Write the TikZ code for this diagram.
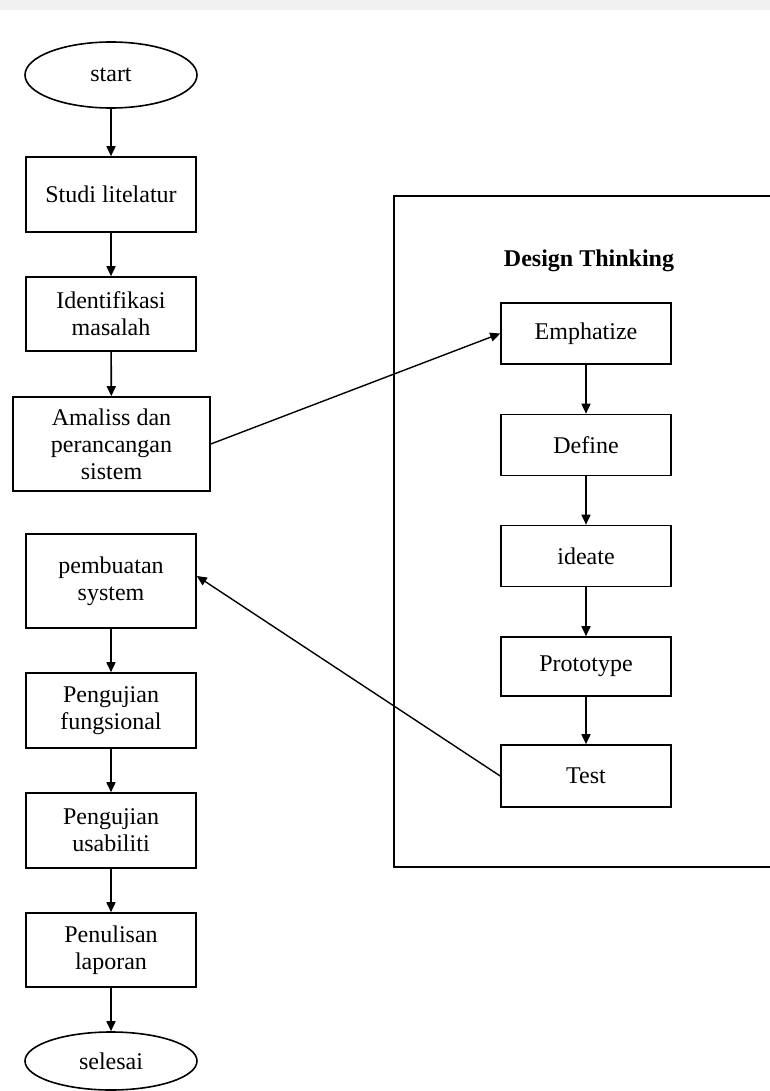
\documentclass[tikz,border=0pt]{standalone}
\usepackage{fontspec}
\setmainfont{Liberation Serif}
\usetikzlibrary{shapes.geometric,arrows.meta}
\begin{document}
\begin{tikzpicture}[x=1pt,y=-1pt,
  font=\fontsize{24}{27}\selectfont,
  proc/.style={draw,line width=1.6pt,inner sep=0pt,align=center,minimum width=170pt},
  term/.style={draw,ellipse,line width=1.6pt,inner sep=0pt,minimum width=172pt},
  flow/.style={line width=1.6pt,-{Triangle[length=10pt,width=9pt]}},
  link/.style={line width=1.4pt,-{Triangle[length=10pt,width=9pt]}}]
\useasboundingbox (0,0) rectangle (770,1091);
% faint strip along the top edge
\fill[gray!12] (0,0) rectangle (770,10);

% left column
\node[term,minimum height=66pt] (start) at (111,75) {start};
\node[proc,minimum height=75pt] (studi) at (111,194.5) {Studi litelatur};
\node[proc,minimum height=74pt] (ident) at (111,314) {Identifikasi\\masalah};
\node[proc,minimum width=197pt,minimum height=94pt] (amal) at (111.5,444) {Amaliss dan\\perancangan\\sistem};
\node[proc,minimum height=94pt] (pemb) at (111,581) {pembuatan\\system};
\node[proc,minimum height=75pt] (fung) at (111,710.5) {Pengujian\\fungsional};
\node[proc,minimum height=75pt] (usab) at (111,830.5) {Pengujian\\usabiliti};
\node[proc,minimum height=74pt] (penul) at (111,950) {Penulisan\\laporan};
\node[term,minimum height=58pt] (sel) at (111,1061) {selesai};

% design thinking frame
\draw[line width=1.6pt] (772,196) -- (394,196) -- (394,867) -- (772,867);
\node[font=\fontsize{24}{27}\selectfont\bfseries] (dt) at (589,261) {Design Thinking};
\node[proc,minimum height=61pt] (emph) at (586,333.5) {Emphatize};
\node[proc,minimum height=61pt] (def) at (586,445) {Define};
\node[proc,minimum height=61pt] (idea) at (586,556) {ideate};
\node[proc,minimum height=59pt] (proto) at (586,666.5) {Prototype};
\node[proc,minimum height=62pt] (test) at (586,776) {Test};

% connectors
\draw[flow] (start) -- (studi);
\draw[flow] (studi) -- (ident);
\draw[flow] (ident) -- (amal);
\draw[flow] (pemb) -- (fung);
\draw[flow] (fung) -- (usab);
\draw[flow] (usab) -- (penul);
\draw[flow] (penul) -- (sel);
\draw[flow] (emph) -- (def);
\draw[flow] (def) -- (idea);
\draw[flow] (idea) -- (proto);
\draw[flow] (proto) -- (test);
\draw[link] (amal.east) -- (emph.west);
\draw[link] (test.west) -- ([yshift=5pt]pemb.east);
\end{tikzpicture}
\end{document}
